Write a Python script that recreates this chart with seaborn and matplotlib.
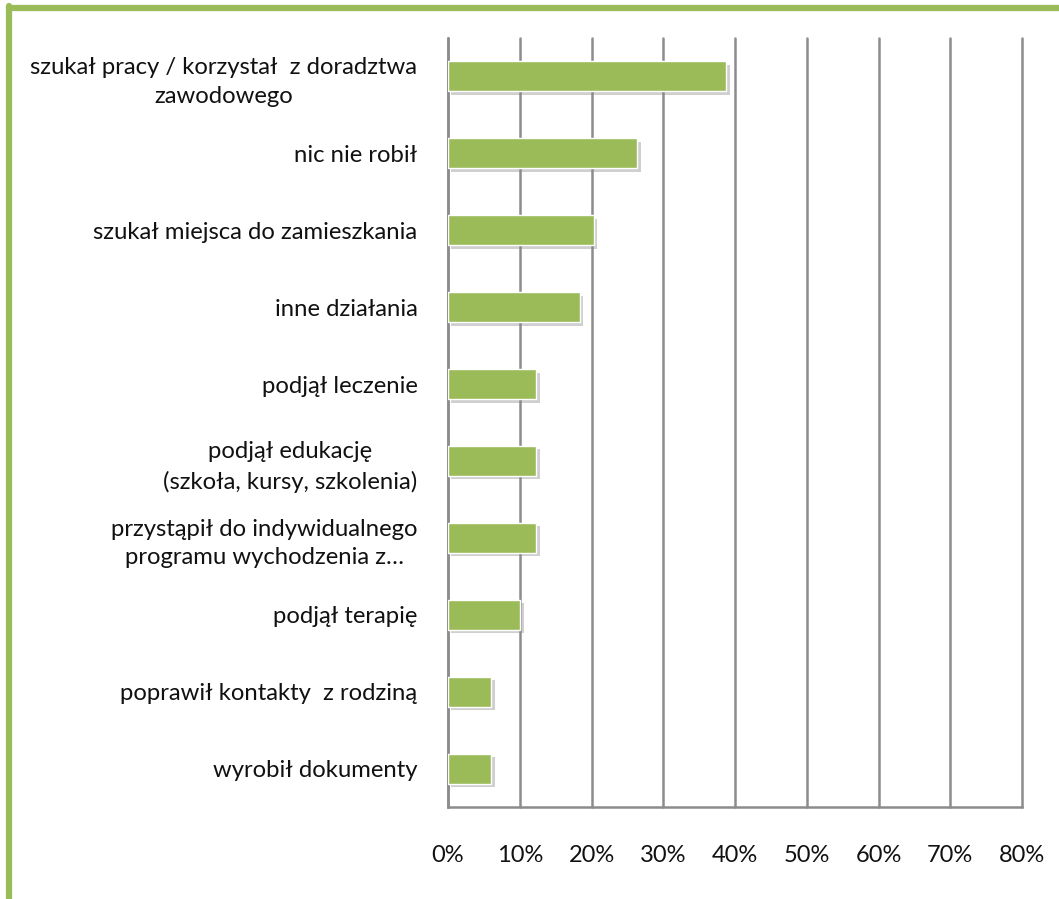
import matplotlib
matplotlib.use("Agg")
import matplotlib.pyplot as plt
import matplotlib.patheffects as pe
import seaborn as sns
import pandas as pd
from matplotlib.lines import Line2D

categories = [
    "szukał pracy / korzystał  z doradztwa\nzawodowego",
    "nic nie robił",
    "szukał miejsca do zamieszkania",
    "inne działania",
    "podjął leczenie",
    "podjął edukację\n(szkoła, kursy, szkolenia)",
    "przystąpił do indywidualnego\nprogramu wychodzenia z…",
    "podjął terapię",
    "poprawił kontakty  z rodziną",
    "wyrobił dokumenty",
]
values = [38.8, 26.4, 20.3, 18.4, 12.3, 12.3, 12.3, 10.1, 6.0, 6.0]
xticks = [0, 10, 20, 30, 40, 50, 60, 70, 80]
xticklabels = ["0%", "10%", "20%", "30%", "40%", "50%", "60%", "70%", "80%"]

df = pd.DataFrame({"cat": categories, "val": values})

sns.set_style("white")
plt.rcParams["font.family"] = ["Lato", "DejaVu Sans"]

fig = plt.figure(figsize=(10.59, 8.99), dpi=100)
ax = fig.add_axes([448 / 1059, 1 - 807 / 899, (1022 - 448) / 1059, (807 - 38) / 899])

sns.barplot(data=df, x="val", y="cat", orient="h", color="#9BBB59", saturation=1,
            width=0.39, ax=ax, edgecolor="white", linewidth=1.0, zorder=3)
for p in ax.patches:
    p.set_path_effects([pe.SimplePatchShadow(offset=(2.5, -2.5), shadow_rgbFace="#888888", alpha=0.4), pe.Normal()])

ax.set_xlim(0, 80)
ax.set_xticks(xticks)
ax.set_xticklabels(xticklabels, fontsize=17, color="#111111")
ax.tick_params(axis="x", length=0, pad=27)
ax.tick_params(axis="y", length=0, pad=22, labelsize=17.2, labelcolor="#111111")
for lab in ax.get_yticklabels():
    lab.set_multialignment("center")
    lab.set_linespacing(1.45)
ax.set_xlabel("")
ax.set_ylabel("")
ax.xaxis.grid(True, color="#8c8c8c", linewidth=1.8, zorder=0)
for gl in ax.get_xgridlines():
    gl.set_clip_on(False)
ax.set_axisbelow(True)
for s in ["top", "right"]:
    ax.spines[s].set_visible(False)
for s in ["left", "bottom"]:
    ax.spines[s].set_color("#8c8c8c")
    ax.spines[s].set_linewidth(1.8)

# green frame (top and left edges visible)
fig.add_artist(Line2D([8.5 / 1059, 1.01], [1 - 8 / 899, 1 - 8 / 899], color="#9BBB59",
                      linewidth=4.5, transform=fig.transFigure))
fig.add_artist(Line2D([9 / 1059, 9 / 1059], [1 - 5.8 / 899, -0.01], color="#9BBB59",
                      linewidth=4.5, transform=fig.transFigure))

fig.savefig("out.png", dpi=100)
